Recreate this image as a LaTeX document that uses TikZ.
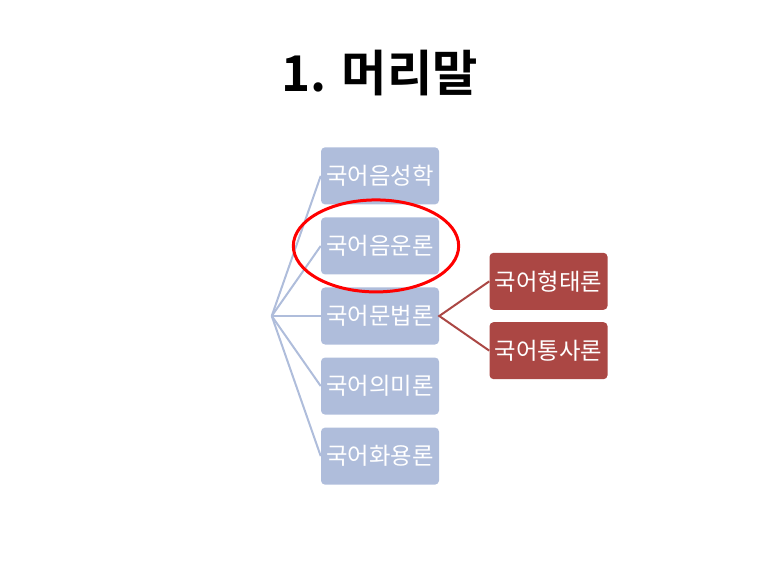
\documentclass[tikz,border=0pt]{standalone}
\usepackage{fontspec}
\newfontfamily\cjk[BoldFont={Noto Sans CJK KR Bold}]{Noto Sans CJK KR}
\usetikzlibrary{positioning}
\definecolor{cajaazul}{HTML}{AFBDDB}
\definecolor{cajaroja}{HTML}{AB4744}
\tikzset{
	titulo/.style={font=\cjk\bfseries\fontsize{37}{42}\selectfont, text=black},
	nivel1/.style={rectangle, rounded corners=3pt, fill=cajaazul, 
		text=white, font=\cjk\fontsize{17.5}{20}\selectfont, minimum width=88.5pt, 
		minimum height=42.75pt, inner sep=0pt, text centered},
	nivel2/.style={nivel1, fill=cajaroja},
	rama/.style={draw=cajaazul, line width=1.5pt},
	ramaroja/.style={draw=cajaroja, line width=1.5pt}
}
\begin{document}
\begin{tikzpicture}[node distance=9.4pt]
			\useasboundingbox (0,0) rectangle (570pt,-427.5pt);
			\node[titulo] (root) at (285pt,-55pt) {1. 머리말};
			
			\node[nivel1] (gramatica) at (285pt,-237pt) {국어문법론};
			\node[nivel1, above=of gramatica] (fonologia) {국어음운론};
			\node[nivel1, above=of fonologia] (fonetica) {국어음성학};
			\node[nivel1, below=of gramatica] (semantica) {국어의미론};
			\node[nivel1, below=of semantica] (pragmatica) {국어화용론};
			
			\node[nivel2, right=37.5pt of gramatica, yshift=26pt] (morfologia) {국어형태론};
			\node[nivel2, right=37.5pt of gramatica, yshift=-26pt] (sintaxis) {국어통사론};
			
			\coordinate[left=36.75pt of gramatica.west] (raiz);
			\foreach \n in {fonetica,fonologia,gramatica,semantica,pragmatica}
				\draw[rama] (raiz) -- (\n.west);
			\draw[ramaroja] (morfologia.west) -- (gramatica.east) -- (sintaxis.west);
			
			\draw[red, line width=2.25pt] (fonologia.center) ++(-3pt,0) ellipse (62pt and 34.5pt);
		\end{tikzpicture}
\end{document}
